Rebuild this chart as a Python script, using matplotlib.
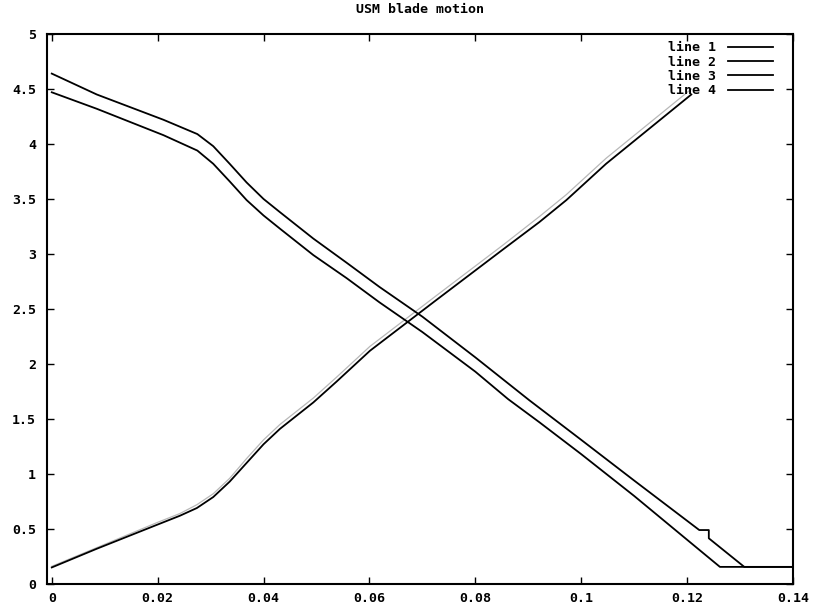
import matplotlib
matplotlib.use("Agg")
import matplotlib.pyplot as plt

# values (time in s, position)
x1 = [0.0, 0.0085, 0.0211, 0.0275, 0.0305, 0.0336, 0.0368, 0.04, 0.0431, 0.0494,
      0.0557, 0.0619, 0.07, 0.08, 0.0902, 0.1, 0.11, 0.1223, 0.1241, 0.1241, 0.1308, 0.14]
y1 = [4.64, 4.45, 4.22, 4.09, 3.98, 3.82, 3.65, 3.50, 3.38, 3.14,
      2.92, 2.70, 2.43, 2.06, 1.67, 1.31, 0.94, 0.49, 0.49, 0.415, 0.155, 0.155]

x2 = [0.0, 0.0085, 0.0211, 0.0275, 0.0305, 0.0336, 0.0368, 0.04, 0.0431, 0.0494,
      0.0557, 0.0619, 0.07, 0.08, 0.0862, 0.0921, 0.1, 0.11, 0.1223, 0.1262, 0.14]
y2 = [4.47, 4.32, 4.08, 3.94, 3.82, 3.66, 3.49, 3.35, 3.23, 2.99,
      2.78, 2.56, 2.29, 1.93, 1.68, 1.47, 1.18, 0.80, 0.31, 0.155, 0.155]

x3 = [0.0, 0.0085, 0.02, 0.0242, 0.0274, 0.0305, 0.0336, 0.0368, 0.04, 0.0431, 0.0494,
      0.0538, 0.0601, 0.0726, 0.0852, 0.0921, 0.0972, 0.1047, 0.1208]
y3 = [0.15, 0.32, 0.54, 0.62, 0.69, 0.79, 0.93, 1.10, 1.27, 1.41, 1.65,
      1.84, 2.12, 2.58, 3.04, 3.29, 3.49, 3.82, 4.45]

x4 = [0.0, 0.0085, 0.02, 0.0242, 0.0274, 0.0305, 0.0336, 0.0368, 0.04, 0.0431, 0.0494,
      0.0538, 0.0601, 0.0726, 0.0852, 0.0921, 0.0972, 0.1047, 0.1208]
y4 = [0.16, 0.33, 0.56, 0.64, 0.72, 0.82, 0.96, 1.14, 1.31, 1.45, 1.69,
      1.88, 2.16, 2.62, 3.08, 3.34, 3.54, 3.87, 4.50]

xticks = [0, 0.02, 0.04, 0.06, 0.08, 0.1, 0.12, 0.14]
xlabels = ["0", "0.02", "0.04", "0.06", "0.08", "0.1", "0.12", "0.14"]
yticks = [0, 0.5, 1, 1.5, 2, 2.5, 3, 3.5, 4, 4.5, 5]
ylabels = ["0", "0.5", "1", "1.5", "2", "2.5", "3", "3.5", "4", "4.5", "5"]

plt.rcParams['font.family'] = 'DejaVu Sans Mono'

fig = plt.figure(figsize=(8.16, 6.07), dpi=100)
ax = fig.add_axes([0.0576, 0.038, 0.9142, 0.906])

ax.plot(x1, y1, color='black', lw=1.3, label='line 1')
ax.plot(x2, y2, color='black', lw=1.3, label='line 2')
ax.plot(x4, y4, color='#b8b8b8', lw=0.9, zorder=1)
ax.plot(x3, y3, color='black', lw=1.3, label='line 3')
# legend sample for line 4 is black in the reference
ax.plot([], [], color='black', lw=1.3, label='line 4')

ax.set_xlim(-0.0009, 0.14)
ax.set_ylim(0, 5)
ax.set_xticks(xticks)
ax.set_xticklabels(xlabels)
ax.set_yticks(yticks)
ax.set_yticklabels(ylabels)
ax.tick_params(direction='in', top=True, right=True, length=5, width=1,
               labelsize=9.5)
ax.tick_params(axis='x', pad=6)
ax.tick_params(axis='y', pad=8)
for lab in ax.get_xticklabels() + ax.get_yticklabels():
    lab.set_fontweight('bold')
for s in ax.spines.values():
    s.set_linewidth(1.5)

ax.set_title('USM blade motion', fontsize=9.5, fontweight='bold', pad=15)

ax.legend(loc='upper right', bbox_to_anchor=(0.980, 0.996), frameon=False,
          markerfirst=False, handlelength=3.4, handletextpad=0.9,
          labelspacing=0.1, borderaxespad=0.0,
          prop={'weight': 'bold', 'size': 9.5})

fig.savefig('out.png', dpi=100)
